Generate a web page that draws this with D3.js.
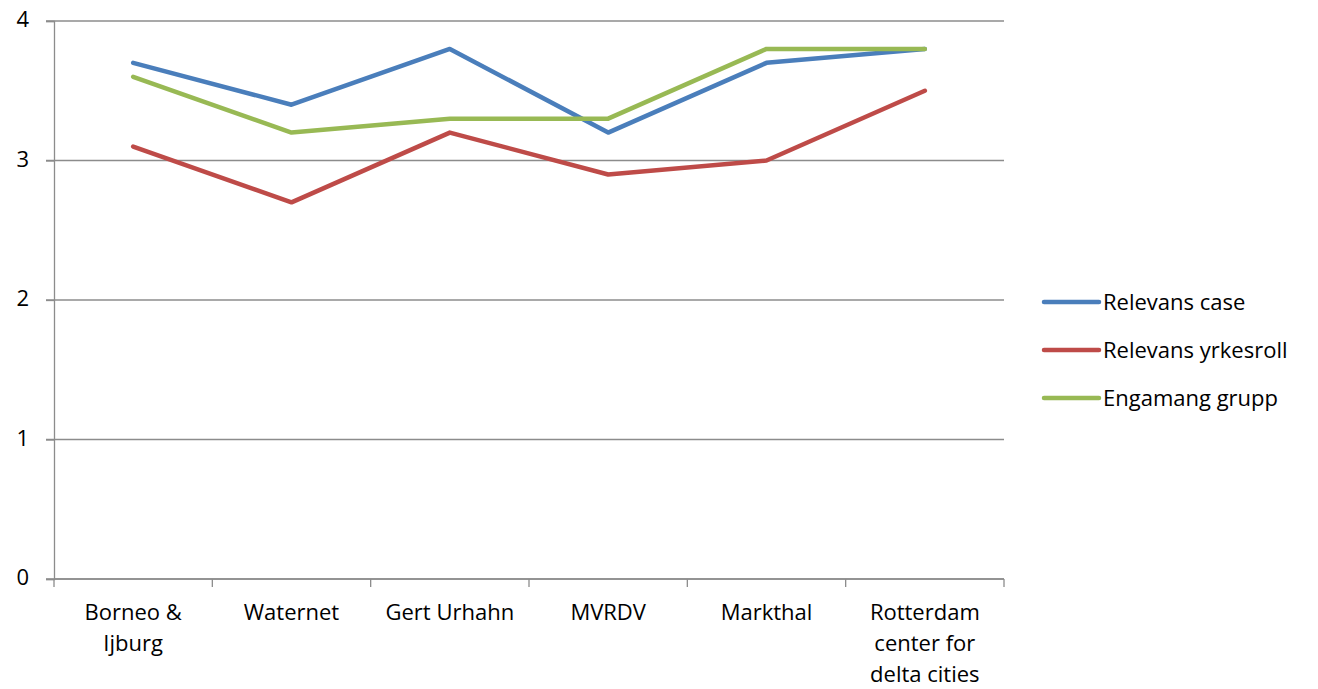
<!DOCTYPE html>
<html>
<head>
<meta charset="utf-8">
<script src="https://cdn.jsdelivr.net/npm/d3@7"></script>
<style>
    body { margin: 0; background: #fff; }
    svg text { font-family: "Open Sans", Lato, sans-serif; fill: #000; }
</style>
</head>
<body>
<div id="chart"></div>
<script>
var categories = [
    ["Borneo &", "Ijburg"],
    ["Waternet"],
    ["Gert Urhahn"],
    ["MVRDV"],
    ["Markthal"],
    ["Rotterdam", "center for", "delta cities"]
];
var seriesNames = ["Relevans case", "Relevans yrkesroll", "Engamang grupp"];
var relevansCase = [3.7, 3.4, 3.8, 3.2, 3.7, 3.8];
var relevansYrkesroll = [3.1, 2.7, 3.2, 2.9, 3.0, 3.5];
var engamangGrupp = [3.6, 3.2, 3.3, 3.3, 3.8, 3.8];
var yTicks = [0, 1, 2, 3, 4];

function init() {
    var w = 1318;
    var h = 689;
    var left = 54, right = 1004, top = 21, bottom = 579;
    var colors = ["#4A7EBB", "#BE4B48", "#98B954"];
    var series = [relevansCase, relevansYrkesroll, engamangGrupp];

    var svg = d3.select("#chart")
        .append("svg")
        .attr("width", w)
        .attr("height", h);

    var xScale = d3.scaleBand()
        .domain(d3.range(categories.length))
        .range([left, right]);

    var yScale = d3.scaleLinear()
        .domain([0, 4])
        .range([bottom, top]);

    // Gridlines
    svg.selectAll(".grid")
        .data(yTicks)
        .enter()
        .append("line")
        .attr("x1", left - 8)
        .attr("x2", right)
        .attr("y1", function(d) { return yScale(d); })
        .attr("y2", function(d) { return yScale(d); })
        .attr("stroke", "#8c8c8c")
        .attr("stroke-width", 1.3);

    // Y axis
    var yAxis = d3.axisLeft(yScale).tickValues(yTicks).tickFormat(d3.format("d"))
        .tickSize(8).tickPadding(17);
    var yG = svg.append("g")
        .attr("transform", "translate(" + left + ",0)")
        .call(yAxis);
    yG.selectAll("path, line").attr("stroke", "#8c8c8c").attr("stroke-width", 1.3);
    yG.selectAll("text").style("font-size", "22px").attr("font-family", null).attr("dy", "0.25em");

    // X axis
    var xTickPos = d3.range(categories.length + 1).map(function(i) {
        return left + i * xScale.bandwidth();
    });
    svg.append("line")
        .attr("x1", left).attr("x2", right)
        .attr("y1", bottom).attr("y2", bottom)
        .attr("stroke", "#8c8c8c").attr("stroke-width", 1.3);
    svg.selectAll(".xtick")
        .data(xTickPos)
        .enter()
        .append("line")
        .attr("x1", function(d) { return d; })
        .attr("x2", function(d) { return d; })
        .attr("y1", bottom)
        .attr("y2", bottom + 8)
        .attr("stroke", "#8c8c8c").attr("stroke-width", 1.3);

    var labels = svg.selectAll(".xlabel")
        .data(categories)
        .enter()
        .append("text")
        .attr("text-anchor", "middle")
        .style("font-size", "22px")
        .attr("x", function(d, i) { return xScale(i) + xScale.bandwidth() / 2; });
    labels.selectAll("tspan")
        .data(function(d) { return d; })
        .enter()
        .append("tspan")
        .attr("x", function() { return this.parentNode.getAttribute("x"); })
        .attr("y", function(d, i) { return 620 + i * 31; })
        .text(function(d) { return d; });

    // Lines
    var line = d3.line()
        .x(function(d, i) { return xScale(i) + xScale.bandwidth() / 2; })
        .y(function(d) { return yScale(d); });

    svg.selectAll(".series")
        .data(series)
        .enter()
        .append("path")
        .attr("d", line)
        .attr("fill", "none")
        .attr("stroke", function(d, i) { return colors[i]; })
        .attr("stroke-width", 4.5)
        .attr("stroke-linecap", "round")
        .attr("stroke-linejoin", "round");

    // Legend
    var legend = svg.selectAll(".legend")
        .data(seriesNames)
        .enter()
        .append("g")
        .attr("transform", function(d, i) { return "translate(1044," + (302 + i * 48) + ")"; });
    legend.append("line")
        .attr("x1", 0).attr("x2", 55)
        .attr("stroke", function(d, i) { return colors[i]; })
        .attr("stroke-width", 4.5)
        .attr("stroke-linecap", "round");
    legend.append("text")
        .attr("x", 59)
        .attr("y", 8)
        .style("font-size", "22px")
        .text(function(d) { return d; });
}

window.onload = init;
</script>
</body>
</html>
